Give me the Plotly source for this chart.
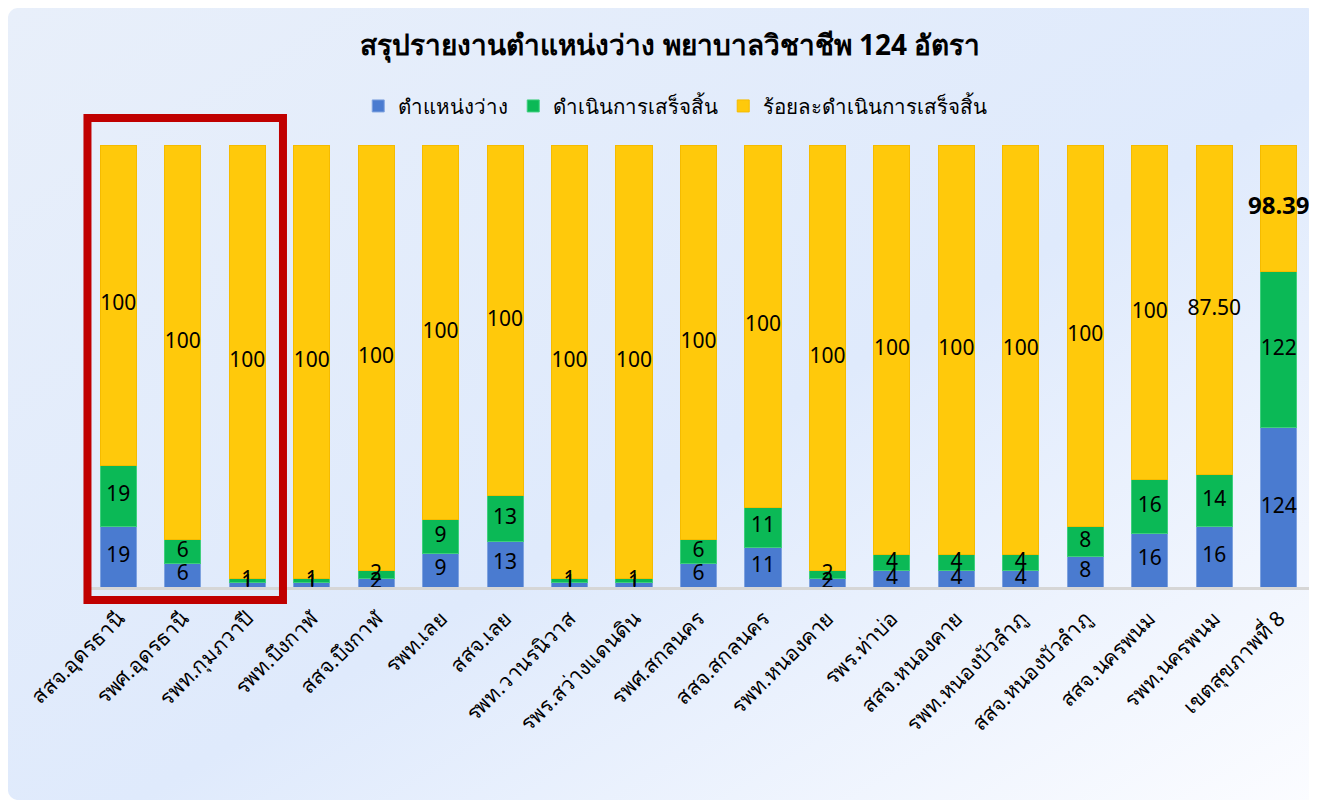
import plotly.graph_objects as go

units = ["สสจ.อุดรธานี", "รพศ.อุดรธานี", "รพท.กุมภวาปี", "รพท.บึงกาฬ", "สสจ.บึงกาฬ",
         "รพท.เลย", "สสจ.เลย", "รพท.วานรนิวาส", "รพร.สว่างแดนดิน", "รพศ.สกลนคร",
         "สสจ.สกลนคร", "รพท.หนองคาย", "รพร.ท่าบ่อ", "สสจ.หนองคาย", "รพท.หนองบัวลำภู",
         "สสจ.หนองบัวลำภู", "สสจ.นครพนม", "รพท.นครพนม", "เขตสุขภาพที่ 8"]
vacant = [19, 6, 1, 1, 2, 9, 13, 1, 1, 6, 11, 2, 4, 4, 4, 8, 16, 16, 124]
done = [19, 6, 1, 1, 2, 9, 13, 1, 1, 6, 11, 2, 4, 4, 4, 8, 16, 14, 122]
pct_done = [100, 100, 100, 100, 100, 100, 100, 100, 100, 100, 100, 100, 100, 100, 100, 100, 100, 87.50, 98.39]

FONT = "Noto Sans, sans-serif"
pct_text = ["%g" % v if v == 100 else "%.2f" % v for v in pct_done]
pct_text[-1] = "<b>" + pct_text[-1] + "</b>"
pct_sizes = [21] * (len(pct_done) - 1) + [24]

fig = go.Figure()
fig.add_bar(x=units, y=vacant, name="ตำแหน่งว่าง",
            marker=dict(color="#4a7bd0", line=dict(color="#7ea2df", width=1)))
fig.add_bar(x=units, y=done, name="ดำเนินการเสร็จสิ้น",
            marker=dict(color="#0bb956", line=dict(color="#3fcf7d", width=1)))
fig.add_bar(x=units, y=pct_done, name="ร้อยละดำเนินการเสร็จสิ้น",
            marker=dict(color="#ffc90b", line=dict(color="#f5bb00", width=1)))

# data labels on top of every bar (centre of each stacked segment, in percent of the bar)
totals = [a + b + c for a, b, c in zip(vacant, done, pct_done)]
mid_vacant = [a / 2 / t * 100 for a, t in zip(vacant, totals)]
mid_done = [(a + b / 2) / t * 100 for a, b, t in zip(vacant, done, totals)]
mid_pct = [(a + b + c / 2) / t * 100 for a, b, c, t in zip(vacant, done, pct_done, totals)]
for ys, txt, sizes in [(mid_vacant, vacant, 21), (mid_done, done, 21), (mid_pct, pct_text, pct_sizes)]:
    fig.add_scatter(x=units, y=ys, text=txt, mode="text", showlegend=False, hoverinfo="skip",
                    cliponaxis=False, textposition="middle center",
                    textfont=dict(family=FONT, color="black", size=sizes))

svg = ("data:image/svg+xml;utf8,<svg xmlns='http://www.w3.org/2000/svg' width='1309' height='792' "
       "viewBox='0 0 1309 792'><defs><linearGradient id='g' x1='0' y1='0' x2='1' y2='1'>"
       "<stop offset='0' stop-color='%23e8effa'/><stop offset='0.55' stop-color='%23dfeafc'/>"
       "<stop offset='1' stop-color='%23fbfcff'/></linearGradient></defs>"
       "<rect x='0' y='0' width='1309' height='792' rx='10' ry='10' fill='url(%23g)'/></svg>")

fig.update_layout(
    width=1309, height=792,
    barmode="stack", barnorm="percent", bargap=0.44,
    paper_bgcolor="white", plot_bgcolor="rgba(0,0,0,0)",
    margin=dict(l=78, r=6, t=137, b=213, autoexpand=False),
    font=dict(family=FONT, color="black", size=19),
    title=dict(text="<b>สรุปรายงานตำแหน่งว่าง พยาบาลวิชาชีพ 124 อัตรา</b>",
               x=0.506, xref="container", xanchor="center", y=0.953, yanchor="middle",
               font=dict(size=28, color="black")),
    legend=dict(orientation="h", x=0.481, xanchor="center", traceorder="normal",
                y=1.088, yanchor="middle", font=dict(size=20.5), itemclick=False,
                bgcolor="rgba(0,0,0,0)"),
    xaxis=dict(tickangle=-45, showline=True, linecolor="#d6d6d6", linewidth=3,
               showgrid=False, tickfont=dict(size=21), range=[-0.5, len(units) - 0.5],
               ticks="outside", ticklen=8, tickcolor="rgba(0,0,0,0)"),
    yaxis=dict(visible=False, range=[0, 100], showgrid=False),
    images=[dict(source=svg, xref="paper", yref="paper", x=-0.0637, y=1.310,
                 sizex=1.0686, sizey=1.792, sizing="stretch", layer="below",
                 xanchor="left", yanchor="top")],
    shapes=[dict(type="rect", xref="paper", yref="paper", x0=0.0012, x1=0.1608,
                 y0=-0.0294, y1=1.061, line=dict(color="#c00000", width=8))],
)

fig.write_html("out.html")
